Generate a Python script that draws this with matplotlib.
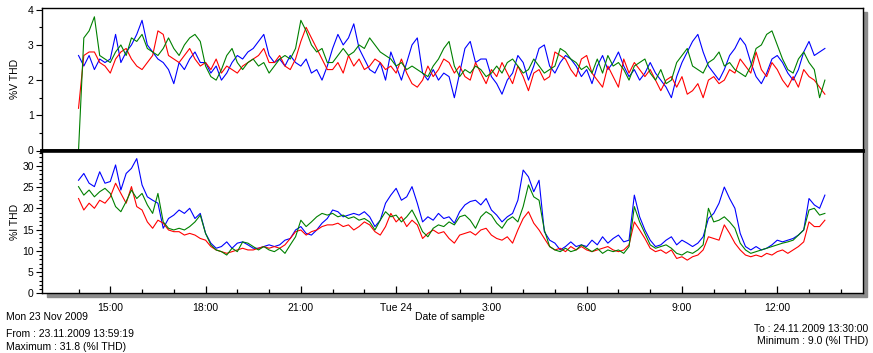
import numpy as np
import matplotlib.pyplot as plt
from matplotlib.ticker import FixedLocator, FixedFormatter, MultipleLocator
from matplotlib.patches import Rectangle

plt.rcParams['font.family'] = ['Liberation Sans', 'DejaVu Sans']
plt.rcParams['font.size'] = 7.5

# 10-minute samples from Mon 23 Nov 14:00 to Tue 24 Nov 13:30 (hours since Mon 00:00)
n_samples = 142
hours = 14 + np.arange(n_samples) / 6

# %V THD
v_red = [1.2, 2.7, 2.8, 2.8, 2.5, 2.4,
         2.2, 2.6, 2.8, 2.9, 2.6, 2.4,
         2.3, 2.5, 2.7, 3.4, 3.3, 2.7,
         2.6, 2.5, 2.7, 2.9, 2.6, 2.4,
         2.5, 2.3, 2.6, 2.2, 2.4, 2.3,
         2.2, 2.4, 2.5, 2.6, 2.7, 2.9,
         2.5, 2.5, 2.7, 2.4, 2.3, 2.6,
         3.1, 3.5, 3.2, 2.9, 2.6, 2.3,
         2.3, 2.5, 2.2, 2.7, 2.4, 2.6,
         2.3, 2.4, 2.6, 2.5, 2.3, 2.4,
         2.2, 2.6, 2.2, 1.9, 1.8, 2.0,
         2.4, 2.1, 2.3, 2.6, 2.5, 2.2,
         2.4, 2.1, 2.0, 2.5, 2.2, 1.9,
         2.3, 2.1, 2.5, 2.2, 1.9, 2.4,
         2.1, 1.7, 2.2, 2.3, 2.0, 2.1,
         2.8, 2.7, 2.6, 2.3, 2.1, 2.6,
         2.7, 2.2, 2.0, 1.8, 2.4, 2.1,
         1.8, 2.6, 2.2, 2.5, 2.3, 2.1,
         2.3, 2.0, 1.7, 2.0, 2.1, 1.8,
         2.1, 1.6, 1.7, 1.9, 1.5, 2.0,
         2.1, 1.9, 2.0, 2.3, 2.2, 2.6,
         2.4, 2.2, 2.8, 2.3, 2.1, 2.5,
         2.3, 2.0, 1.8, 2.1, 1.8, 2.3,
         2.1, 2.0, 1.8, 1.6]
v_green = [0.0, 3.2, 3.4, 3.8, 2.7, 2.6,
           2.5, 2.8, 3.0, 2.7, 3.2, 3.1,
           3.3, 2.9, 2.8, 2.7, 2.9, 3.2,
           2.9, 2.7, 3.0, 3.2, 3.3, 3.1,
           2.4, 2.1, 2.0, 2.3, 2.7, 2.9,
           2.5, 2.3, 2.5, 2.6, 2.4, 2.5,
           2.2, 2.4, 2.6, 2.7, 2.6, 2.9,
           3.7, 3.4, 3.0, 2.8, 2.9, 2.5,
           2.5, 2.7, 2.9, 2.7, 2.8, 3.0,
           2.9, 3.2, 3.0, 2.8, 2.7, 2.6,
           2.4, 2.5, 2.3, 2.4, 2.3, 2.2,
           2.1, 2.4, 2.6, 2.9, 3.1, 2.4,
           2.1, 2.3, 2.2, 2.4, 2.3, 2.1,
           2.2, 2.4, 2.2, 2.5, 2.6, 2.4,
           2.2, 2.3, 2.6, 2.4, 2.2, 2.3,
           2.4, 2.9, 2.8, 2.6, 2.5, 2.3,
           2.4, 2.2, 2.6, 2.2, 2.7, 2.4,
           2.5, 2.3, 2.0, 2.4, 2.5, 2.6,
           2.2, 2.0, 2.3, 1.9, 2.0, 2.5,
           2.7, 2.9, 2.4, 2.3, 2.2, 2.5,
           2.6, 2.8, 2.4, 2.5, 2.3, 2.2,
           2.1, 2.4, 2.9, 3.0, 3.3, 3.4,
           3.0, 2.6, 2.3, 2.2, 2.6, 2.8,
           2.5, 2.3, 1.5, 2.0]
v_blue = [2.7, 2.4, 2.7, 2.3, 2.6, 2.5,
          2.6, 3.3, 2.5, 2.8, 3.0, 3.3,
          3.7, 3.0, 2.8, 2.6, 2.5, 2.3,
          1.9, 2.5, 2.3, 2.6, 2.8, 2.5,
          2.5, 2.2, 2.4, 2.0, 2.2, 2.5,
          2.7, 2.6, 2.8, 2.9, 3.1, 3.3,
          2.7, 2.5, 2.6, 2.4, 2.7, 2.5,
          2.4, 2.6, 2.2, 2.3, 2.0, 2.4,
          2.9, 3.3, 3.0, 3.2, 3.6, 2.9,
          2.6, 2.3, 2.2, 2.5, 2.0, 2.8,
          2.4, 2.0, 2.5, 3.0, 3.2, 2.2,
          2.0, 2.3, 2.0, 2.2, 2.1, 1.5,
          2.2, 2.9, 3.1, 2.5, 2.6, 2.6,
          2.1, 1.9, 1.6, 2.0, 2.2, 2.7,
          2.5, 2.0, 2.4, 2.9, 3.0, 2.4,
          2.2, 2.5, 2.7, 2.6, 2.4, 2.1,
          2.3, 1.9, 2.4, 2.7, 2.3, 2.5,
          2.8, 2.4, 2.1, 2.3, 2.0, 2.2,
          2.5, 2.2, 2.0, 1.8, 1.5, 2.1,
          2.5, 2.8, 3.1, 3.3, 2.8, 2.4,
          2.2, 2.0, 2.3, 2.7, 2.9, 3.2,
          3.0, 2.5, 2.1, 1.9, 2.2, 2.6,
          2.7, 2.5, 2.2, 2.0, 2.3, 2.8,
          3.1, 2.7, 2.8, 2.9]

# %I THD
i_red = [22.3, 19.6, 21.2, 20.0, 21.9, 21.2,
         22.7, 25.9, 23.5, 21.2, 25.1, 20.4,
         19.6, 16.8, 15.3, 17.2, 16.5, 14.9,
         14.5, 14.5, 13.7, 14.1, 13.7, 12.9,
         12.5, 11.0, 10.2, 9.8, 9.4, 9.8,
         10.2, 10.6, 10.2, 10.2, 10.6, 11.0,
         10.6, 11.0, 10.6, 11.4, 12.9, 14.5,
         14.9, 13.7, 14.5, 14.9, 15.7, 16.1,
         16.1, 16.5, 15.7, 16.1, 14.9, 15.7,
         16.8, 16.1, 14.5, 13.7, 15.7, 18.8,
         16.8, 18.0, 15.7, 17.2, 16.1, 12.9,
         14.1, 14.9, 14.1, 14.5, 12.9, 11.8,
         13.7, 14.1, 14.5, 13.7, 14.9, 15.3,
         13.7, 12.9, 12.5, 13.3, 11.8, 14.9,
         17.6, 19.2, 16.5, 14.9, 12.9, 11.0,
         10.2, 10.6, 9.8, 11.0, 10.2, 11.0,
         10.2, 9.8, 10.2, 10.6, 11.0, 10.2,
         9.8, 10.2, 11.4, 16.8, 14.9, 12.9,
         10.6, 9.8, 10.2, 9.4, 10.2, 8.2,
         8.6, 7.8, 8.6, 9.0, 10.2, 13.3,
         12.9, 12.5, 16.1, 14.1, 11.8, 10.2,
         9.0, 8.6, 9.0, 8.6, 9.4, 9.0,
         9.8, 10.2, 9.4, 10.2, 11.0, 12.1,
         16.8, 15.7, 15.7, 17.2]
i_green = [25.1, 23.1, 24.3, 22.7, 23.9, 24.7,
           23.5, 20.4, 19.2, 21.6, 24.3, 22.3,
           23.5, 20.8, 18.8, 23.5, 16.8, 15.3,
           14.9, 15.3, 14.9, 15.7, 16.8, 18.4,
           14.1, 11.4, 10.2, 9.8, 9.0, 10.6,
           9.8, 12.1, 11.8, 11.0, 10.2, 11.0,
           10.2, 9.8, 10.6, 9.4, 11.4, 13.3,
           17.2, 15.7, 16.8, 18.0, 18.8, 18.4,
           18.8, 18.0, 18.4, 17.6, 18.0, 17.2,
           17.6, 16.8, 14.9, 17.2, 19.2, 18.0,
           18.4, 16.8, 18.0, 19.6, 17.2, 14.5,
           13.3, 15.3, 16.1, 15.7, 16.8, 16.1,
           18.0, 18.4, 17.2, 15.3, 18.0, 19.2,
           18.4, 16.5, 15.3, 17.2, 18.0, 16.8,
           20.4, 25.5, 22.7, 21.9, 14.9, 11.0,
           10.2, 9.8, 10.6, 9.8, 10.2, 11.4,
           10.6, 9.8, 10.6, 9.4, 10.2, 9.8,
           10.2, 9.4, 11.0, 20.4, 16.8, 14.1,
           11.4, 10.6, 11.0, 11.4, 10.6, 9.4,
           9.0, 9.8, 9.4, 10.2, 11.4, 20.0,
           16.8, 17.2, 18.0, 16.8, 15.3, 11.8,
           10.2, 9.4, 9.8, 10.2, 10.6, 11.0,
           11.4, 11.8, 12.1, 12.5, 13.7, 14.9,
           19.6, 20.0, 18.4, 18.8]
i_blue = [26.6, 28.2, 25.9, 25.1, 28.6, 25.9,
          26.3, 30.2, 24.3, 28.2, 29.4, 31.7,
          25.5, 22.7, 21.9, 21.2, 15.3, 17.6,
          18.4, 19.6, 18.8, 20.0, 17.6, 18.8,
          14.1, 11.8, 10.6, 11.0, 12.1, 10.6,
          11.8, 12.1, 11.4, 10.6, 10.6, 11.0,
          11.4, 11.0, 11.4, 12.5, 12.9, 14.9,
          15.7, 14.1, 13.7, 14.9, 16.5, 17.6,
          19.6, 19.2, 18.0, 18.4, 18.8, 18.4,
          19.2, 18.0, 15.7, 17.2, 21.2, 23.1,
          24.7, 21.9, 22.7, 25.1, 21.2, 16.8,
          18.0, 17.2, 18.8, 17.6, 18.0, 16.5,
          19.2, 20.8, 21.6, 21.9, 20.8, 22.3,
          19.6, 18.4, 16.8, 18.0, 18.8, 21.9,
          29.0, 27.4, 23.9, 26.6, 14.5, 12.5,
          11.8, 10.2, 11.0, 12.1, 11.0, 11.4,
          11.0, 12.5, 11.4, 13.3, 11.8, 12.9,
          13.7, 12.1, 12.5, 23.1, 18.0, 14.9,
          12.5, 11.0, 11.4, 12.5, 13.3, 11.4,
          12.5, 11.8, 11.0, 11.8, 13.3, 17.6,
          18.8, 21.2, 25.0, 22.3, 20.0, 14.1,
          11.0, 10.2, 11.0, 10.2, 10.6, 11.4,
          12.5, 12.1, 12.5, 12.9, 13.7, 14.9,
          22.3, 20.8, 20.0, 23.1]

tick_hours = [15, 18, 21, 24, 27, 30, 33, 36]
tick_labels = ['15:00', '18:00', '21:00', 'Tue 24', '3:00', '6:00', '9:00', '12:00']

W, H = 873, 353
fig = plt.figure(figsize=(W / 100, H / 100), dpi=100)


def px_rect(x0, y0, x1, y1):
    return [x0 / W, 1 - y1 / H, (x1 - x0) / W, (y1 - y0) / H]


# grey drop shadow behind the frame
fig.add_artist(Rectangle((47 / W, 1 - 297 / H), 820 / W, 285 / H,
                         transform=fig.transFigure, color='#8c8c8c', zorder=-1))

ax1 = fig.add_axes(px_rect(42, 8, 863, 150.5))
ax2 = fig.add_axes(px_rect(42, 150.5, 863, 293.3))

colors = {'red': '#ff0000', 'green': '#008000', 'blue': '#0000ff'}
for ax, r, g, b in [(ax1, v_red, v_green, v_blue), (ax2, i_red, i_green, i_blue)]:
    ax.plot(hours, b, color=colors['blue'], lw=0.8)
    ax.plot(hours, r, color=colors['red'], lw=0.8)
    ax.plot(hours, g, color=colors['green'], lw=0.8)
    ax.set_xlim(12.85, 38.7)
    for s in ax.spines.values():
        s.set_linewidth(1.0)
        s.set_color('black')

ax1.set_ylim(0, 4.05)
ax1.yaxis.set_major_locator(MultipleLocator(1))
ax1.yaxis.set_minor_locator(MultipleLocator(0.5))
ax1.set_xticks([])
ax1.spines['bottom'].set_linewidth(2.6)
ax1.set_ylabel('%V THD')

ax2.set_ylim(0, 33.6)
ax2.yaxis.set_major_locator(FixedLocator([0, 5, 10, 15, 20, 25, 30]))
ax2.yaxis.set_minor_locator(FixedLocator(np.arange(0, 34)))
ax2.spines['top'].set_linewidth(2.6)
ax2.xaxis.set_major_locator(FixedLocator(tick_hours))
ax2.xaxis.set_major_formatter(FixedFormatter(tick_labels))
ax2.xaxis.set_minor_locator(FixedLocator(np.arange(14, 39)))
ax2.set_ylabel('%I THD')

# both y labels sit at the same x, about 15 px from the left edge
for ax in (ax1, ax2):
    ax.yaxis.set_label_coords((20 - 42) / 821, 0.5)
    ax.tick_params(axis='y', which='major', direction='out', length=4, width=0.8, pad=2)
    ax.tick_params(axis='y', which='minor', direction='out', length=2.5, width=0.8)
ax2.tick_params(axis='x', which='major', direction='in', length=5, width=0.9, pad=7)
ax2.tick_params(axis='x', which='minor', direction='in', length=3, width=0.9)

fig.text(6 / W, 1 - 317 / H, 'Mon 23 Nov 2009', va='center', ha='left')
fig.text(450 / W, 1 - 317 / H, 'Date of sample', va='center', ha='center')
fig.text(6 / W, 1 - 334 / H, 'From : 23.11.2009 13:59:19', va='center', ha='left')
fig.text(6 / W, 1 - 346.5 / H, 'Maximum : 31.8 (%I THD)', va='center', ha='left')
fig.text(868 / W, 1 - 328.5 / H, 'To : 24.11.2009 13:30:00', va='center', ha='right')
fig.text(868 / W, 1 - 341.5 / H, 'Minimum : 9.0 (%I THD)', va='center', ha='right')

fig.savefig('out.png', dpi=100)
